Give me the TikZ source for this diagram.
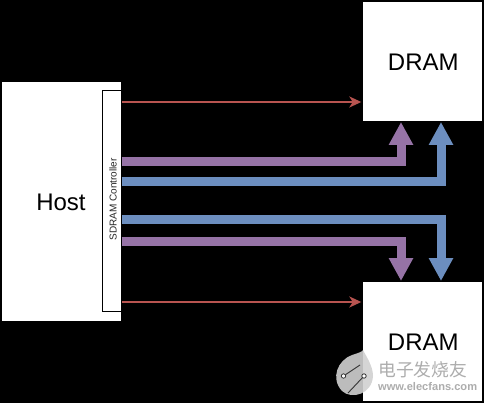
\documentclass[tikz,border=0pt]{standalone}
\usepackage{fontspec}
\setmainfont{Liberation Sans}
\newfontfamily\cjkwm{Noto Sans CJK SC}
\usetikzlibrary{arrows.meta}
\definecolor{busred}{HTML}{B85450}
\definecolor{buspurple}{HTML}{9673A6}
\definecolor{busblue}{HTML}{6C8EBF}
\tikzset{
  x=1pt,y=-1pt,
  box/.style={fill=white,draw=none,inner sep=0pt,text=black,font=\fontsize{24}{28}\selectfont},
  ctrltext/.style={inner sep=0pt,text=black!85,font=\fontsize{10}{12}\selectfont,rotate=90},
  thin link/.style={draw=busred,line width=2.4pt,-{Stealth[length=12pt,width=11pt,inset=3.5pt]},shorten >=1.5pt},
  bus/.style={line width=9pt,-{Triangle[length=23pt,width=23pt]},shorten >=1pt},
  wmtext/.style={inner sep=0pt,text=white!68!black}
}
\begin{document}
\begin{tikzpicture}
\useasboundingbox (0,0) rectangle (484,403);
\fill[black] (0,0) rectangle (484,403);
\node[box,minimum width=119pt,minimum height=239pt] (host) at (61.5,201.5) {};
\node[box] (hostlabel) at (61,202) {Host};
\node[inner sep=0pt,minimum width=19pt,minimum height=220pt,anchor=north west] (ctrl) at (102,91) {};
\draw[black,line width=1pt] (ctrl.north east) -- (ctrl.north west) -- (ctrl.south west) -- (ctrl.south east);
\node[ctrltext] (ctrllabel) at (113,199.5) {SDRAM Controller};
\node[box,minimum width=119pt,minimum height=119pt] (dtop) at (422.5,61.5) {};
\node[box,minimum width=119pt,minimum height=119pt] (dbot) at (422.5,341.5) {};
\node[box] (dtoplabel) at (423.3,62) {DRAM};
\node[box] (dbotlabel) at (423.3,342) {DRAM};
% free ends on the controller edge
\coordinate (r1) at (122,102);
\coordinate (p1) at (122,161.7);
\coordinate (b1) at (122,182);
\coordinate (b2) at (122,220);
\coordinate (p2) at (122,241.8);
\coordinate (r2) at (122,302);
\coordinate (tp) at (401,121);
\coordinate (tb) at (441,121);
\coordinate (bp) at (401,282);
\coordinate (bb) at (441,282);
\draw[thin link] (r1) -- (r1 -| dtop.west);
\draw[thin link] (r2) -- (r2 -| dbot.west);
\draw[bus,draw=buspurple] (p1) -| (tp);
\draw[bus,draw=busblue] (b1) -| (tb);
\draw[bus,draw=busblue] (b2) -| (bb);
\draw[bus,draw=buspurple] (p2) -| (bp);
% watermark
\fill[white!82!black,opacity=.9] (342,391) .. controls (330,378) and (338,360) .. (352,355) .. controls (358,353) and (362,352) .. (363,350) .. controls (366,356) and (373,366) .. (373,376) .. controls (372,394) and (352,400) .. (342,391) -- cycle;
\draw[black!80,line width=.9pt] (343.5,376) -- (360,365);
\draw[black!80,line width=.9pt] (364,376) -- (348,393);
\fill[white,draw=black!80,line width=.8pt] (343.5,376) circle (2.2pt) (364,376) circle (2.2pt);
\node[wmtext,anchor=west,font=\cjkwm\fontsize{17.8}{20}\selectfont] (wm1) at (378,370) {电子发烧友};
\node[wmtext,anchor=west,font=\bfseries\fontsize{11.1}{13}\selectfont] (wm2) at (378,386.5) {www.elecfans.com};
\end{tikzpicture}
\end{document}
